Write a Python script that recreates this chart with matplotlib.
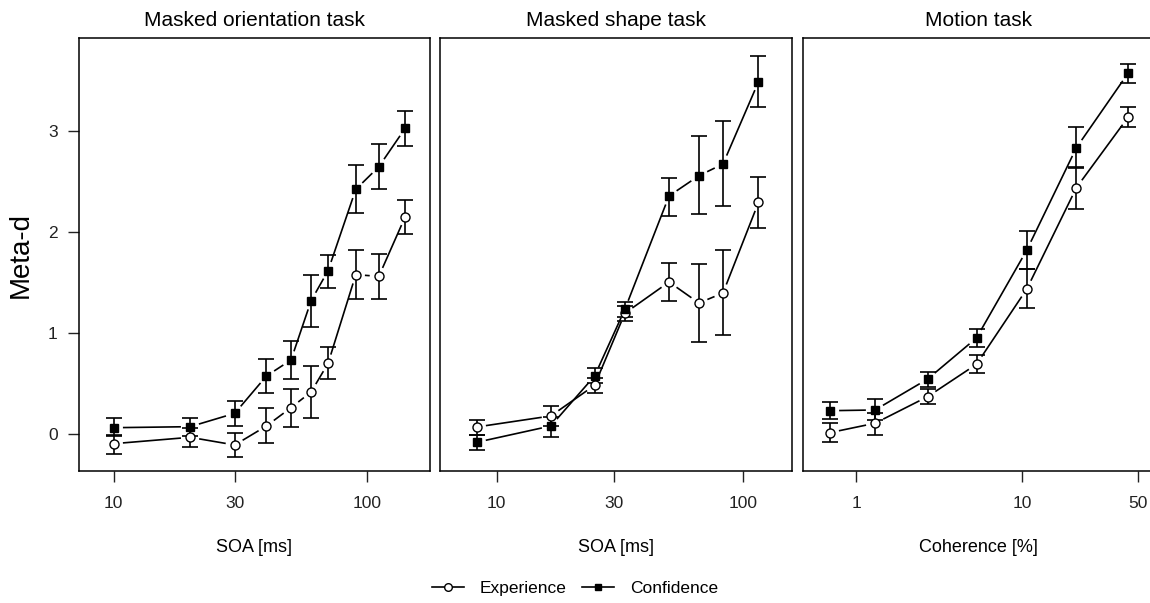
import matplotlib
matplotlib.use("Agg")
import matplotlib.pyplot as plt
from matplotlib.lines import Line2D
import numpy as np

plt.rcParams['font.family'] = ['Liberation Sans', 'DejaVu Sans']

# ---- data ----
titles = ["Masked orientation task", "Masked shape task", "Motion task"]
xlabels = ["SOA [ms]", "SOA [ms]", "Coherence [%]"]
xticks = [[10, 30, 100], [10, 30, 100], [1, 10, 50]]

# masked orientation task
ori_x = [10, 20, 30, 40, 50, 60, 70, 90, 111, 141]
ori_conf = [0.065, 0.075, 0.207, 0.576, 0.734, 1.32, 1.617, 2.42, 2.644, 3.024]
ori_conf_lo = [-0.014, -0.02, 0.08, 0.405, 0.543, 1.063, 1.449, 2.184, 2.42, 2.852]
ori_conf_hi = [0.158, 0.164, 0.33, 0.744, 0.925, 1.577, 1.772, 2.661, 2.869, 3.195]
ori_exp = [-0.093, -0.03, -0.106, 0.082, 0.263, 0.418, 0.701, 1.577, 1.561, 2.15]
ori_exp_lo = [-0.195, -0.122, -0.227, -0.089, 0.069, 0.158, 0.543, 1.34, 1.34, 1.979]
ori_exp_hi = [-0.007, 0.059, 0.016, 0.257, 0.451, 0.675, 0.866, 1.821, 1.782, 2.315]

# masked shape task
shp_x = [8.3, 16.6, 25, 33.2, 50.2, 66.4, 83.2, 116]
shp_conf = [-0.079, 0.082, 0.576, 1.235, 2.355, 2.555, 2.671, 3.484]
shp_conf_lo = [-0.155, -0.024, 0.504, 1.156, 2.16, 2.174, 2.256, 3.234]
shp_conf_hi = [-0.007, 0.174, 0.652, 1.31, 2.536, 2.948, 3.093, 3.741]
shp_exp = [0.072, 0.181, 0.484, 1.196, 1.505, 1.297, 1.396, 2.292]
shp_exp_lo = [-0.01, 0.082, 0.405, 1.123, 1.314, 0.909, 0.981, 2.036]
shp_exp_hi = [0.141, 0.283, 0.553, 1.268, 1.69, 1.683, 1.818, 2.543]

# motion task
mot_x = [0.695, 1.3, 2.7, 5.32, 10.7, 21.3, 43.6]
mot_conf = [0.233, 0.24, 0.546, 0.952, 1.821, 2.832, 3.567]
mot_conf_lo = [0.148, 0.141, 0.47, 0.866, 1.63, 2.628, 3.468]
mot_conf_hi = [0.316, 0.352, 0.616, 1.04, 2.009, 3.034, 3.659]
mot_exp = [0.016, 0.109, 0.372, 0.692, 1.436, 2.437, 3.132]
mot_exp_lo = [-0.073, -0.007, 0.299, 0.603, 1.251, 2.223, 3.034]
mot_exp_hi = [0.115, 0.207, 0.448, 0.784, 1.63, 2.638, 3.231]

panels = [
    (ori_x, ori_exp, ori_exp_lo, ori_exp_hi, ori_conf, ori_conf_lo, ori_conf_hi),
    (shp_x, shp_exp, shp_exp_lo, shp_exp_hi, shp_conf, shp_conf_lo, shp_conf_hi),
    (mot_x, mot_exp, mot_exp_lo, mot_exp_hi, mot_conf, mot_conf_lo, mot_conf_hi),
]
xlims = [(7.26, 176.6), (5.88, 158), (0.478, 63)]
ylim = (-0.363, 3.916)

W, H = 1150, 603
fig = plt.figure(figsize=(W / 100, H / 100), dpi=100)
lefts = [78.5, 440, 803]
pw = 351.5
bottom, top = 471, 38


def gap_line(ax, x, y, gap=10):
    # R type="b": lines stop short of the points
    pts = ax.transData.transform(np.column_stack([x, y]))
    inv = ax.transData.inverted()
    for p, q in zip(pts[:-1], pts[1:]):
        d = q - p
        L = np.hypot(*d)
        if L <= 2 * gap:
            continue
        u = d / L
        a = inv.transform(p + u * gap)
        b = inv.transform(q - u * gap)
        ax.plot([a[0], b[0]], [a[1], b[1]], color='black', lw=1.2, zorder=2)


for i, (x, e, elo, ehi, c, clo, chi) in enumerate(panels):
    ax = fig.add_axes([lefts[i] / W, (H - bottom) / H, pw / W, (bottom - top) / H])
    ax.set_xscale('log')
    ax.set_xlim(*xlims[i])
    ax.set_ylim(*ylim)
    x = np.array(x)
    for vals, lo, hi, mk, fc in [(e, elo, ehi, 'o', 'white'), (c, clo, chi, 's', 'black')]:
        vals = np.array(vals)
        yerr = [vals - np.array(lo), np.array(hi) - vals]
        ax.errorbar(x, vals, yerr=yerr, fmt='none', ecolor='black', elinewidth=1.2,
                    capsize=6, capthick=1.2, zorder=3)
        gap_line(ax, x, vals)
        ax.plot(x, vals, linestyle='none', marker=mk, markersize=6.5 if mk == 'o' else 6,
                markerfacecolor=fc, markeredgecolor='black', markeredgewidth=1.0, zorder=4)
    ax.set_xticks(xticks[i])
    ax.set_xticklabels([str(t) for t in xticks[i]])
    ax.xaxis.set_minor_locator(matplotlib.ticker.NullLocator())
    ax.tick_params(axis='x', direction='out', length=8, width=1, pad=10, labelsize=12.5,
                   colors='#222222')
    if i == 0:
        ax.set_yticks([0, 1, 2, 3])
        ax.tick_params(axis='y', direction='out', length=8, width=1, pad=7, labelsize=12.5,
                       colors='#222222')
        ax.set_ylabel("Meta-d", fontsize=20, labelpad=10)
    else:
        ax.set_yticks([])
    for s in ax.spines.values():
        s.set_linewidth(1.1)
    ax.set_title(titles[i], fontsize=15, pad=9)
    ax.set_xlabel(xlabels[i], fontsize=13, labelpad=20)

handles = [
    Line2D([], [], color='black', lw=1.2, marker='o', markersize=5.5,
           markerfacecolor='white', markeredgecolor='black'),
    Line2D([], [], color='black', lw=1.2, marker='s', markersize=5,
           markerfacecolor='black', markeredgecolor='black'),
]
fig.legend(handles, ["Experience", "Confidence"], loc='center', ncol=2,
           bbox_to_anchor=(0.5, 1 - 588 / H), frameon=False, fontsize=12.5,
           handlelength=1.85, columnspacing=0.9, handletextpad=0.9)

fig.savefig("out.png", dpi=100)
